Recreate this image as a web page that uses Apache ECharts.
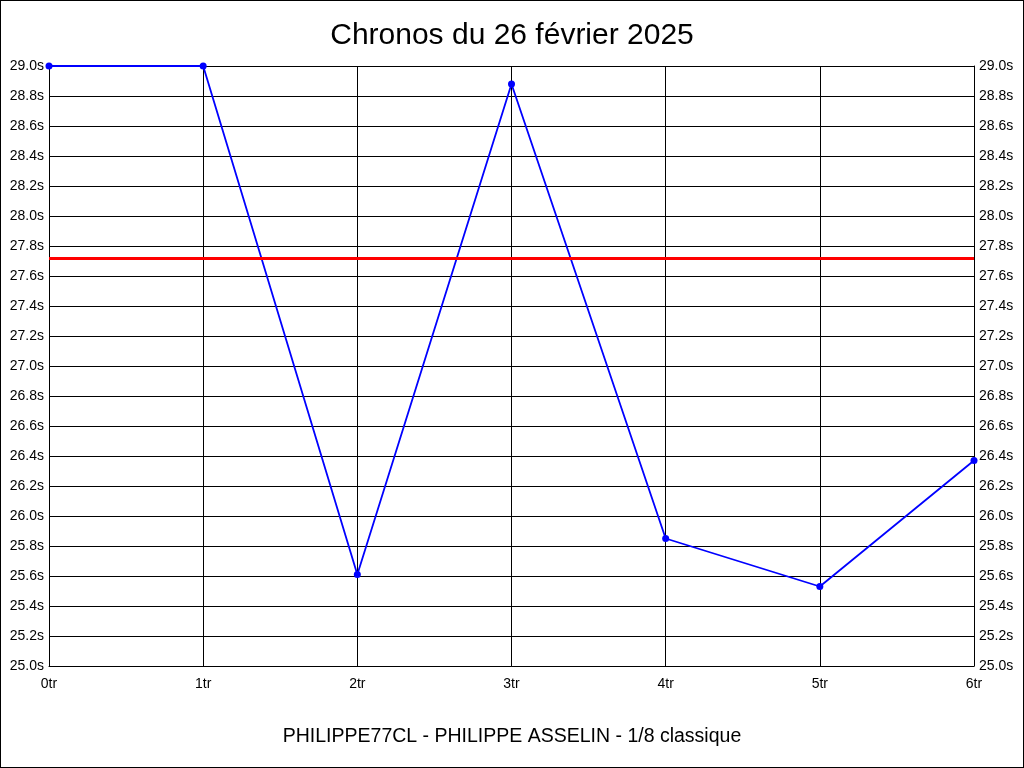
<!DOCTYPE html>
<html>
<head>
<meta charset="utf-8">
<title>Chronos du 26 février 2025</title>
<script src="https://cdn.jsdelivr.net/npm/echarts@6/dist/echarts.min.js"></script>
<style>
  html, body { margin: 0; padding: 0; background: #fff; }
  #chart { width: 1024px; height: 768px; box-sizing: border-box; border: 1px solid #000; }
</style>
</head>
<body>
<div id="chart"></div>
<script>
// tours (catégories)
const tours = ["0tr", "1tr", "2tr", "3tr", "4tr", "5tr", "6tr"];
// temps au tour, en secondes
const chronos = [29.0, 29.0, 25.61, 28.88, 25.85, 25.53, 26.37];
// ligne de référence rouge
const reference = 27.72;
const yMin = 25.0;
const yMax = 29.0;
const yStep = 0.2;

const police = "Liberation Sans, Arial, sans-serif";
const chart = echarts.init(document.getElementById("chart"));

const axeY = function (pos) {
  return {
    type: "value",
    position: pos,
    min: yMin,
    max: yMax,
    interval: yStep,
    axisLine: { show: true, lineStyle: { color: "#000", width: 1 } },
    axisTick: { show: false },
    axisLabel: {
      color: "#000",
      fontSize: 14,
      fontFamily: police,
      margin: 5,
      formatter: function (v) { return v.toFixed(1) + "s"; }
    },
    splitLine: { show: pos === "left", lineStyle: { color: "#000", width: 1 } }
  };
};

chart.setOption({
  animation: false,
  title: [
    {
      text: "Chronos du 26 février 2025",
      left: "center",
      top: 15,
      textStyle: { color: "#000", fontSize: 30, fontWeight: "normal", fontFamily: police }
    },
    {
      text: "PHILIPPE77CL - PHILIPPE ASSELIN - 1/8 classique",
      left: "center",
      top: 721,
      textStyle: { color: "#000", fontSize: 19.5, fontWeight: "normal", fontFamily: police }
    }
  ],
  grid: { left: 48, right: 49, top: 65, bottom: 101 },
  xAxis: {
    type: "category",
    boundaryGap: false,
    data: tours,
    axisLine: { show: true, lineStyle: { color: "#000", width: 1 } },
    axisTick: { show: false },
    axisLabel: {
      color: "#000",
      fontSize: 14,
      fontFamily: police,
      margin: 11,
      showMinLabel: true,
      showMaxLabel: true
    },
    splitLine: { show: true, lineStyle: { color: "#000", width: 1 } }
  },
  yAxis: [axeY("left"), axeY("right")],
  series: [
    {
      type: "line",
      data: chronos,
      symbol: "circle",
      symbolSize: 7,
      itemStyle: { color: "#0000ff" },
      lineStyle: { color: "#0000ff", width: 1.8 },
      markLine: {
        silent: true,
        symbol: "none",
        label: { show: false },
        lineStyle: { color: "#ff0000", width: 3, type: "solid" },
        data: [{ yAxis: reference }]
      }
    }
  ]
});
</script>
</body>
</html>
